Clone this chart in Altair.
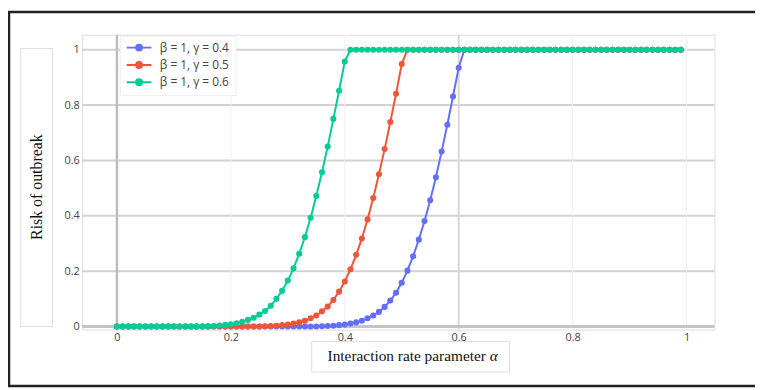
import altair as alt
import pandas as pd

# ---- data ----
alpha = [i / 100 for i in range(100)]  # 0.00 ... 0.99

risk_g04 = [0.0] * 36 + [
    0.001, 0.002, 0.003, 0.005, 0.007, 0.011, 0.015, 0.021, 0.030, 0.040,
    0.053, 0.071, 0.094, 0.122, 0.158, 0.202, 0.254, 0.314, 0.381, 0.456,
    0.539, 0.632, 0.729, 0.831, 0.935,
] + [1.0] * 39

risk_g05 = [0.0] * 26 + [
    0.001, 0.002, 0.003, 0.005, 0.007, 0.011, 0.015, 0.021, 0.030, 0.040,
    0.055, 0.072, 0.096, 0.126, 0.163, 0.207, 0.259, 0.318, 0.387, 0.464,
    0.550, 0.641, 0.739, 0.841, 0.948,
] + [1.0] * 49

risk_g06 = [0.0] * 16 + [
    0.001, 0.002, 0.004, 0.006, 0.008, 0.012, 0.017, 0.024, 0.032, 0.043,
    0.056, 0.075, 0.100, 0.129, 0.166, 0.210, 0.263, 0.323, 0.393, 0.472,
    0.557, 0.650, 0.750, 0.852, 0.957,
] + [1.0] * 59

series_labels = ["β = 1, γ = 0.4", "β = 1, γ = 0.5", "β = 1, γ = 0.6"]
series_colors = ["#636efa", "#ef553b", "#00cc96"]
x_ticks = [0, 0.2, 0.4, 0.6, 0.8, 1]
y_ticks = [0, 0.2, 0.4, 0.6, 0.8, 1]
y_grid = [0.2, 0.4, 0.6, 0.8, 1]
x_grid_faint = [0.2, 0.4, 0.8, 1]
x_grid_mid = [0.6]

# ---- build table ----
rows = []
for lab, vals in zip(series_labels, [risk_g04, risk_g05, risk_g06]):
    for a, v in zip(alpha, vals):
        rows.append({"alpha": a, "risk": v, "series": lab})
df = pd.DataFrame(rows)

xs = alt.Scale(domain=[-0.061, 1.049], nice=False, zero=False)
ys = alt.Scale(domain=[-0.011, 1.054], nice=False, zero=False)
cs = alt.Scale(domain=series_labels, range=series_colors)

FONT = "Open Sans"
dummy = pd.DataFrame({"k": [0]})

x_axis = alt.Axis(values=x_ticks, format="~g", grid=False, ticks=False,
                  domain=False, labelFont=FONT, labelFontSize=11,
                  labelColor="#444444", labelPadding=2, title=None)
y_axis = alt.Axis(values=y_ticks, format="~g", grid=False, ticks=False,
                  domain=False, labelFont=FONT, labelFontSize=11,
                  labelColor="#444444", labelPadding=3, title=None)


def X(field):
    return alt.X(field, scale=xs, axis=x_axis)


def Y(field):
    return alt.Y(field, scale=ys, axis=y_axis)


legend_symbol = ("M-2.5,0L2.5,0M0.6,0A0.6,0.6,0,1,1,-0.6,0"
                 "A0.6,0.6,0,1,1,0.6,0Z")

legend = alt.Legend(
    orient="none", legendX=38, legendY=1, title=None,
    fillColor="white", strokeColor="#eeeeee", padding=6,
    labelFont=FONT, labelFontSize=12, labelColor="#444444",
    symbolType=legend_symbol, symbolSize=100, symbolStrokeWidth=2,
    symbolOffset=7.5, rowPadding=3.5, labelOffset=15,
)

# grid lines
hgrid = alt.Chart(pd.DataFrame({"y": y_grid})).mark_rule(
    color="#d2d2d2", strokeWidth=2).encode(y=Y("y:Q"))
vgrid_faint = alt.Chart(pd.DataFrame({"x": x_grid_faint})).mark_rule(
    color="#efefef", strokeWidth=1).encode(x=X("x:Q"))
vgrid_mid = alt.Chart(pd.DataFrame({"x": x_grid_mid})).mark_rule(
    color="#d8d8d8", strokeWidth=2).encode(x=X("x:Q"))
zero_v = alt.Chart(pd.DataFrame({"x": [0]})).mark_rule(
    color="#bdbdbd", strokeWidth=2.5).encode(x=X("x:Q"))
zero_h = alt.Chart(pd.DataFrame({"y": [0]})).mark_rule(
    color="#c4c4c4", strokeWidth=3).encode(y=Y("y:Q"))

# series layers, drawn trace by trace
series_layers = []
for i, lab in enumerate(series_labels):
    base = alt.Chart(df).transform_filter(alt.datum.series == lab)
    enc = dict(
        x=X("alpha:Q"),
        y=Y("risk:Q"),
        color=alt.Color("series:N", scale=cs, legend=legend),
    )
    series_layers.append(base.mark_line(strokeWidth=2).encode(**enc))
    series_layers.append(base.mark_circle(size=38, opacity=1).encode(**enc))

# axis titles in boxes
ybox = alt.Chart(dummy).mark_rect(filled=False, stroke="#dddddd",
                                  strokeWidth=1).encode(
    x=alt.value(-62), x2=alt.value(-30), y=alt.value(14), y2=alt.value(295))
ytitle = alt.Chart(dummy).mark_text(
    text="Risk of outbreak", angle=270, font="Liberation Serif",
    fontSize=16, color="#111111", baseline="middle", align="center").encode(
    x=alt.value(-46), y=alt.value(154))
xbox = alt.Chart(dummy).mark_rect(filled=False, stroke="#dddddd",
                                  strokeWidth=1).encode(
    x=alt.value(232), x2=alt.value(432), y=alt.value(310), y2=alt.value(341))
xtitle = alt.Chart(dummy).mark_text(
    text="Interaction rate parameter", font="Liberation Serif", fontSize=15.5,
    color="#111111", baseline="middle", align="right").encode(
    x=alt.value(408), y=alt.value(325))
xtitle_a = alt.Chart(dummy).mark_text(
    text="α", font="Liberation Serif", fontSize=15.5, fontStyle="italic",
    color="#111111", baseline="middle", align="left").encode(
    x=alt.value(412), y=alt.value(325))

frame = alt.Chart(dummy).mark_rect(filled=False, stroke="#222222",
                                   strokeWidth=2.5).encode(
    x=alt.value(-74), x2=alt.value(720), y=alt.value(-23), y2=alt.value(355))

chart = alt.layer(
    hgrid, vgrid_faint, vgrid_mid, zero_v, zero_h,
    *series_layers,
    ybox, ytitle, xbox, xtitle, xtitle_a, frame,
).properties(
    width=639, height=298,
    autosize=alt.AutoSizeParams(type="none"),
    padding={"left": 75, "top": 25, "right": 41, "bottom": 59},
).configure_view(stroke=None).configure(background="white")

chart.save("out.html", embed_options={"renderer": "svg", "actions": False})
